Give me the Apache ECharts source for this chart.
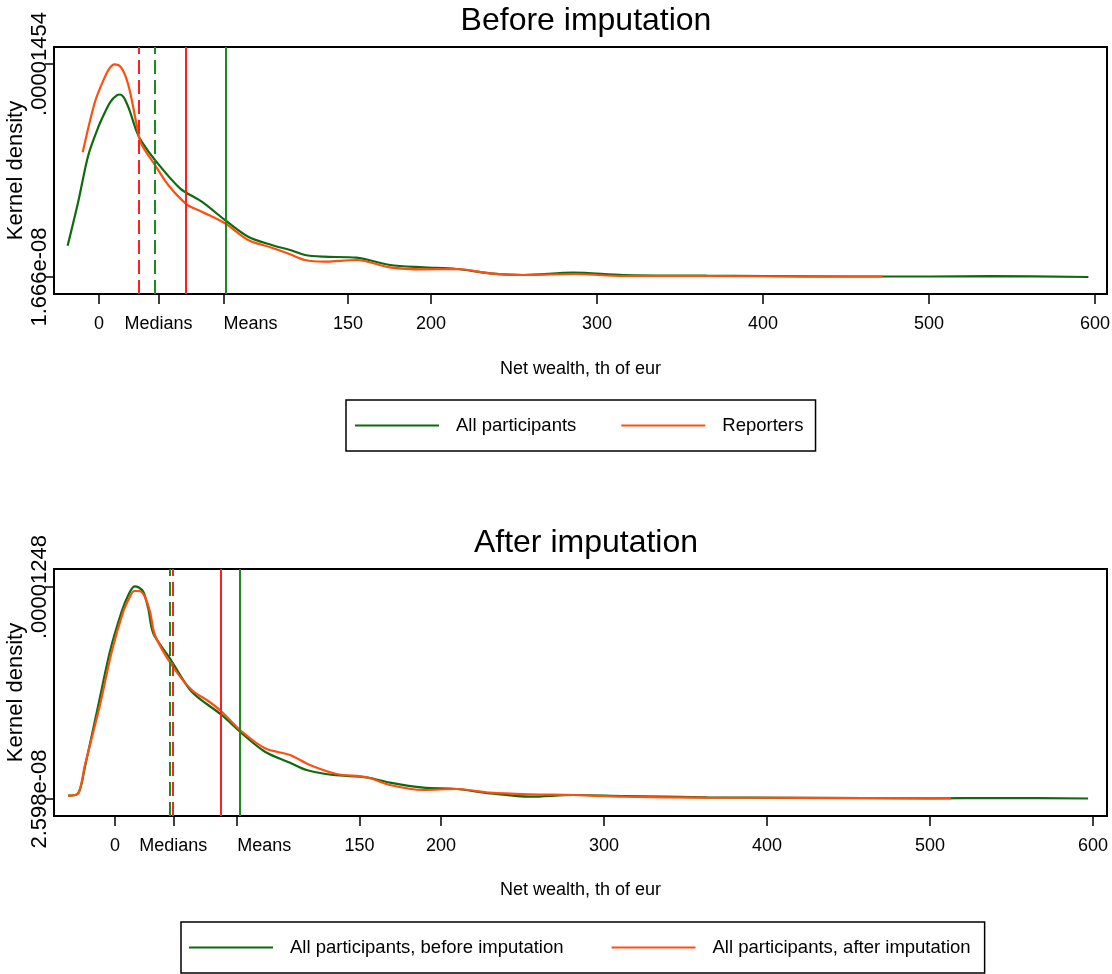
<!DOCTYPE html>
<html>
<head>
<meta charset="utf-8">
<script src="https://cdn.jsdelivr.net/npm/echarts@6/dist/echarts.min.js"></script>
<style>
html, body { margin: 0; padding: 0; background: #fff; }
#main { width: 1112px; height: 974px; }
</style>
</head>
<body>
<div id="main"></div>
<script>
// ---- data ----
// x axis: net wealth, th of eur ; y: kernel density
var xTicks = [0, 35.8, 75, 150, 200, 300, 400, 500, 600];
var xTickLabels = ['0', 'Medians', 'Means', '150', '200', '300', '400', '500', '600'];

var topYTicks = [1.666e-8, 1.454e-5];
var topYLabels = ['1.666e-08', '.00001454'];
var botYTicks = [2.598e-8, 1.248e-5];
var botYLabels = ['2.598e-08', '.00001248'];

// Before imputation
var beforeAllX = [-18.9, -12.5, -6.4, 0, 3.6, 7.0, 10.7, 12.7, 14.6, 16.7, 18.7, 22.7, 25.7, 33.7, 48.8, 61.9, 75.9, 89.9, 104.0, 115.1, 124.1, 135.1, 155.2, 175.3, 195.4, 215.5, 235.5, 255.6, 285.7, 315.8, 366.1, 400, 452, 500, 537, 596];
var beforeAllY = [2.151e-6, 5.15e-6, 8.335e-6, 10.35e-6, 11.25e-6, 11.98e-6, 12.40e-6, 12.46e-6, 12.309e-6, 11.86e-6, 11.287e-6, 9.923e-6, 9.241e-6, 7.994e-6, 6.064e-6, 5.150e-6, 3.903e-6, 2.764e-6, 2.198e-6, 1.857e-6, 1.517e-6, 1.401e-6, 1.332e-6, 0.835e-6, 0.678e-6, 0.562e-6, 0.269e-6, 0.153e-6, 0.310e-6, 0.153e-6, 0.105e-6, 0.085e-6, 0.05e-6, 0.05e-6, 0.07e-6, 0.017e-6];
var reportersX = [-9.8, -2.4, 3.6, 6.6, 9.2, 11.6, 13.7, 16.1, 18.7, 22.7, 25.3, 33.7, 41.7, 52.8, 61.9, 75.9, 89.9, 104.0, 115.1, 124.1, 135.1, 155.2, 175.3, 195.4, 215.5, 235.5, 255.6, 285.7, 315.8, 366.1, 422, 472];
var reportersY = [8.519e-6, 11.969e-6, 13.673e-6, 14.287e-6, 14.519e-6, 14.47e-6, 14.246e-6, 13.673e-6, 12.650e-6, 10.380e-6, 9.132e-6, 7.653e-6, 6.289e-6, 4.973e-6, 4.469e-6, 3.678e-6, 2.539e-6, 2.014e-6, 1.564e-6, 1.176e-6, 1.060e-6, 1.176e-6, 0.678e-6, 0.542e-6, 0.562e-6, 0.269e-6, 0.153e-6, 0.221e-6, 0.085e-6, 0.085e-6, 0.05e-6, 0.05e-6];

// After imputation
var afterBeforeX = [-28.7, -22.5, -18.4, -10.2, -3.1, 4.1, 8.2, 12.0, 14.6, 17.4, 20.4, 23.5, 33.7, 47.1, 65.5, 76.7, 92.0, 107.4, 117.6, 133.9, 154.4, 168.7, 189.1, 209.6, 230.1, 254.6, 281.2, 311.8, 363.0, 420, 500, 543, 597];
var afterBeforeY = [0.220e-6, 0.361e-6, 1.924e-6, 5.549e-6, 8.680e-6, 11.030e-6, 12.01e-6, 12.52e-6, 12.45e-6, 12.205e-6, 11.230e-6, 9.761e-6, 8.292e-6, 6.330e-6, 4.961e-6, 3.980e-6, 2.805e-6, 2.159e-6, 1.730e-6, 1.436e-6, 1.301e-6, 0.984e-6, 0.690e-6, 0.613e-6, 0.361e-6, 0.161e-6, 0.261e-6, 0.202e-6, 0.126e-6, 0.096e-6, 0.067e-6, 0.085e-6, 0.055e-6];
var afterAfterX = [-28.7, -22.5, -18.4, -9.2, -2.0, 5.1, 9.2, 11.8, 14.7, 18.0, 21.5, 24.5, 34.8, 47.1, 57.2, 65.5, 76.7, 92.0, 107.4, 119.6, 136.0, 154.4, 168.7, 189.1, 209.6, 230.1, 254.6, 281.2, 311.8, 363.0, 420, 513];
var afterAfterY = [0.220e-6, 0.361e-6, 2.024e-6, 5.549e-6, 8.680e-6, 11.030e-6, 11.91e-6, 12.246e-6, 12.246e-6, 11.97e-6, 11.030e-6, 9.661e-6, 7.899e-6, 6.430e-6, 5.784e-6, 5.155e-6, 4.080e-6, 3.005e-6, 2.611e-6, 2.024e-6, 1.495e-6, 1.301e-6, 0.849e-6, 0.555e-6, 0.613e-6, 0.396e-6, 0.302e-6, 0.261e-6, 0.161e-6, 0.102e-6, 0.096e-6, 0.067e-6];

// medians / means  [first group, second group]
var topMedians = [33.7, 24.1];
var topMeans = [76.6, 52.4];
var botMedians = [33.7, 35.6];
var botMeans = [76.6, 65.0];

var GREEN = '#0d6b0d', ORANGE = '#ff4f10', LGREEN = '#1c8a1c', RED = '#ff1f1f';
var FONT = '"Liberation Sans", Arial, sans-serif';

function pairs(xs, ys) { return xs.map(function (x, i) { return [x, ys[i]]; }); }
function pick(ticks, labels) {
    return function (v) {
        for (var i = 0; i < ticks.length; i++) {
            if (Math.abs(ticks[i] - v) < 1e-9 * Math.max(1, Math.abs(ticks[i]))) return labels[i];
        }
        return '';
    };
}
// "Means" sits to the right of its tick, as in the original
function xLabel(v) {
    var s = pick(xTicks, xTickLabels)(v);
    return s === 'Means' ? '{r|' + s + '}' : s;
}
function vline(x, color, dashed) {
    return { xAxis: x, lineStyle: { color: color, width: 2, type: dashed ? [14, 6] : 'solid' } };
}

function xAxisOpt(idx, min, max, gap) {
    return {
        type: 'value', gridIndex: idx, min: min, max: max,
        name: 'Net wealth, th of eur', nameLocation: 'middle', nameGap: gap, nameMoveOverlap: false,
        nameTextStyle: { fontFamily: FONT, fontSize: 18, color: '#000' },
        axisLine: { onZero: false, lineStyle: { color: '#000', width: 2 } },
        axisTick: { customValues: xTicks, length: 10, lineStyle: { color: '#000', width: 1.5 } },
        axisLabel: { customValues: xTicks, formatter: xLabel, margin: 21,
            fontFamily: FONT, fontSize: 18, color: '#000', hideOverlap: false,
            rich: { r: { fontFamily: FONT, fontSize: 18, color: '#000', padding: [0, 0, 0, 54] } } },
        splitLine: { show: false }
    };
}
function yAxisOpt(idx, min, max, ticks, labels) {
    return {
        type: 'value', gridIndex: idx, min: min, max: max,
        name: 'Kernel density', nameLocation: 'middle', nameGap: 27, nameRotate: 90, nameMoveOverlap: false,
        nameTextStyle: { fontFamily: FONT, fontSize: 22, color: '#000' },
        axisLine: { onZero: false, lineStyle: { color: '#000', width: 2 } },
        axisTick: { customValues: ticks, length: 9, lineStyle: { color: '#000', width: 1.5 } },
        axisLabel: { customValues: ticks, formatter: pick(ticks, labels), rotate: 90, margin: 3,
            align: 'center', verticalAlign: 'bottom', fontFamily: FONT, fontSize: 22, color: '#000' },
        splitLine: { show: false }
    };
}
function curve(name, x, y, idx, color, lines) {
    return {
        name: name, type: 'line', xAxisIndex: idx, yAxisIndex: idx,
        data: pairs(x, y), smooth: 0.3, symbol: 'none',
        lineStyle: { color: color, width: 2.2 }, itemStyle: { color: color },
        markLine: { silent: true, symbol: ['none', 'none'], label: { show: false }, data: lines }
    };
}

var legendBase = {
    orient: 'horizontal', icon: 'rect', itemWidth: 84, itemHeight: 2,
    borderColor: '#000', borderWidth: 1.5,
    textStyle: { fontFamily: FONT, fontSize: 18.5, color: '#000', padding: [0, 0, 0, 12] }
};

var option = {
    animation: false,
    backgroundColor: '#fff',
    title: [
        { text: 'Before imputation', left: 581, top: 0, textAlign: 'center',
          textStyle: { fontFamily: FONT, fontSize: 32, fontWeight: 'normal', color: '#000' } },
        { text: 'After imputation', left: 581, top: 522, textAlign: 'center',
          textStyle: { fontFamily: FONT, fontSize: 32, fontWeight: 'normal', color: '#000' } }
    ],
    legend: [
        Object.assign({}, legendBase, { data: ['All participants', 'Reporters'], left: 346, top: 400,
            itemGap: 45, padding: [16, 12, 16, 9] }),
        Object.assign({}, legendBase, { data: ['All participants, before imputation', 'All participants, after imputation'],
            left: 181, top: 922, itemGap: 48, padding: [16, 14, 16, 8] })
    ],
    grid: [
        { left: 54, right: 5, top: 47, height: 247, show: true, borderColor: '#000', borderWidth: 2,
          containLabel: false, outerBoundsMode: 'none' },
        { left: 54, right: 5, top: 569, height: 247, show: true, borderColor: '#000', borderWidth: 2,
          containLabel: false, outerBoundsMode: 'none' }
    ],
    xAxis: [xAxisOpt(0, -27.1, 607.2, 66), xAxisOpt(1, -37.4, 608.6, 65)],
    yAxis: [yAxisOpt(0, -1.142e-6, 1.5698e-5, topYTicks, topYLabels),
            yAxisOpt(1, -0.973e-6, 1.3539e-5, botYTicks, botYLabels)],
    series: [
        curve('All participants', beforeAllX, beforeAllY, 0, GREEN,
            [vline(topMedians[0], LGREEN, true), vline(topMeans[0], LGREEN, false)]),
        curve('Reporters', reportersX, reportersY, 0, ORANGE,
            [vline(topMedians[1], RED, true), vline(topMeans[1], RED, false)]),
        curve('All participants, before imputation', afterBeforeX, afterBeforeY, 1, GREEN,
            [vline(botMedians[0], LGREEN, true), vline(botMeans[0], LGREEN, false)]),
        curve('All participants, after imputation', afterAfterX, afterAfterY, 1, ORANGE,
            [vline(botMedians[1], RED, true), vline(botMeans[1], RED, false)])
    ]
};

echarts.init(document.getElementById('main')).setOption(option);
</script>
</body>
</html>
